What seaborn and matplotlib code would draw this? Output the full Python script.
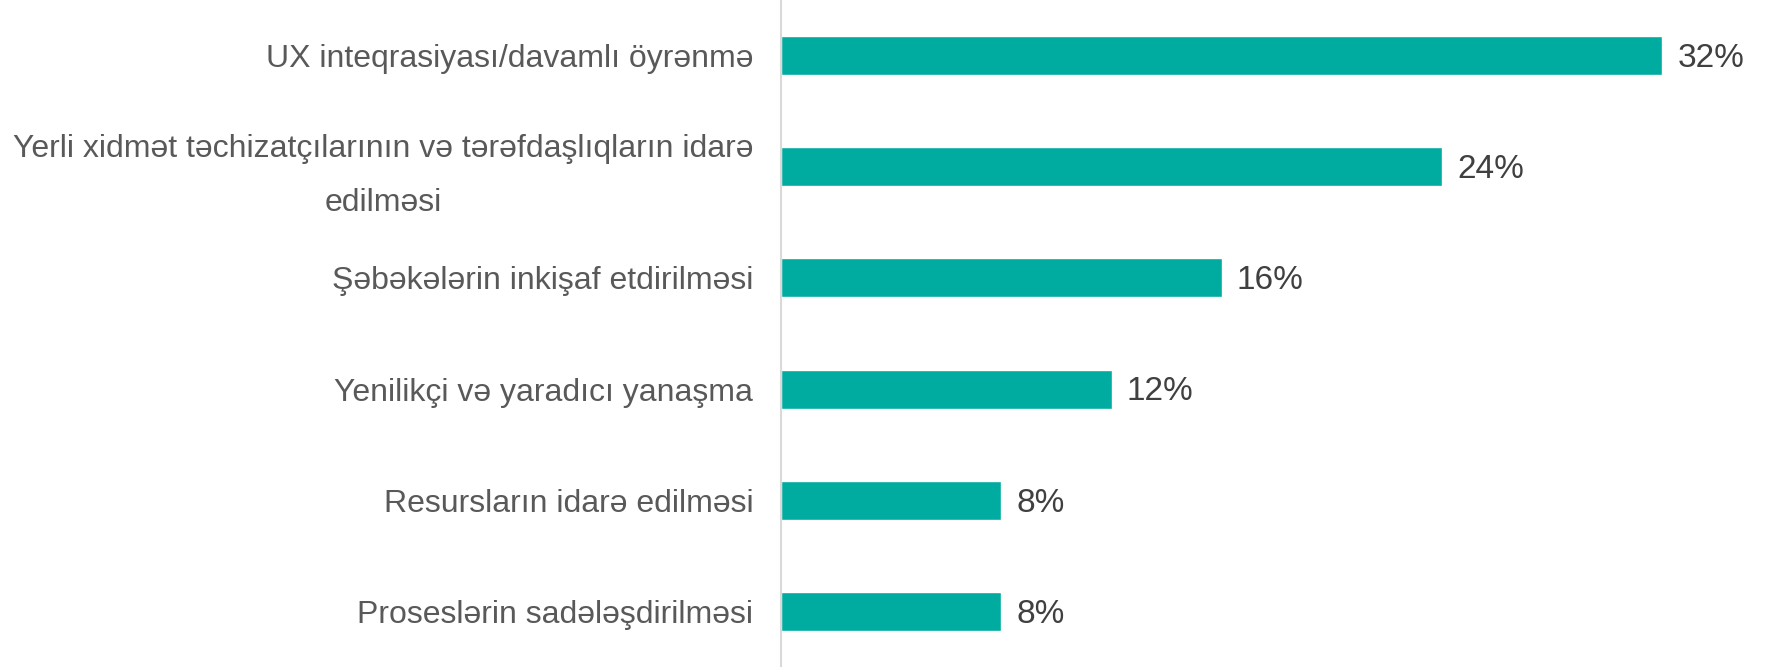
import pandas as pd
import numpy as np
import matplotlib.pyplot as plt
import matplotlib.transforms as mtransforms
import seaborn as sns

categories = [
    "UX inteqrasiyası/davamlı öyrənmə",
    "Yerli xidmət təchizatçılarının və tərəfdaşlıqların idarə\nedilməsi",
    "Şəbəkələrin inkişaf etdirilməsi",
    "Yenilikçi və yaradıcı yanaşma",
    "Resursların idarə edilməsi",
    "Proseslərin sadələşdirilməsi",
]
values = [32, 24, 16, 12, 8, 8]
value_labels = ["32%", "24%", "16%", "12%", "8%", "8%"]

df = pd.DataFrame({"cat": categories, "val": values})

sns.set_style("white")
plt.rcParams['font.family'] = ['Liberation Sans', 'DejaVu Sans']

fig = plt.figure(figsize=(17.67, 6.67), dpi=100)
ax = fig.add_axes([0.442, 0.0, 0.558, 1.0])
sns.barplot(data=df, x="val", y="cat", orient="h", color="#00ABA0",
            width=0.35, saturation=1, ax=ax)

ax.set_xlim(0, 35.8)
ax.set_ylim(5.5, -0.5)
ax.set_xlabel("")
ax.set_ylabel("")
ax.set_xticks([])
for s in ["top", "right", "bottom"]:
    ax.spines[s].set_visible(False)
ax.spines["left"].set_color("#D9D9D9")
ax.spines["left"].set_linewidth(1.5)

ax.tick_params(axis="y", length=0, pad=20, labelsize=23, labelcolor="#595959")
for t in ax.get_yticklabels():
    t.set_multialignment("center")
    t.set_linespacing(2.05)
    if "\n" in t.get_text():
        # nudge the two-line label up a little
        t.set_transform(t.get_transform() +
                        mtransforms.ScaledTranslation(0, 0.065, fig.dpi_scale_trans))

for i, (v, lab) in enumerate(zip(values, value_labels)):
    ax.annotate(lab, (v, i), xytext=(11, -2), textcoords="offset points",
                va="center", ha="left", fontsize=24, color="#404040")

fig.savefig("out.png", dpi=100)
